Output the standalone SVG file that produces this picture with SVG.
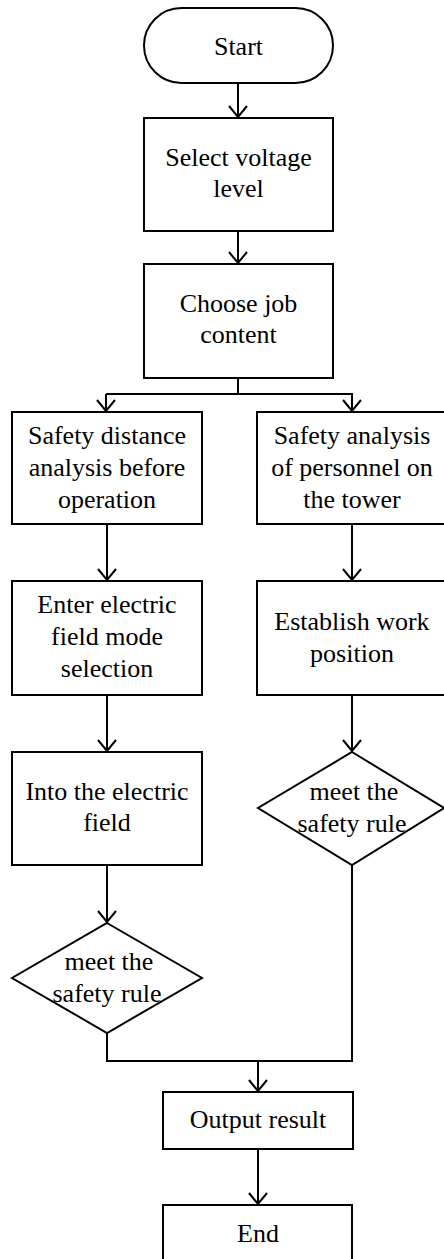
<svg xmlns="http://www.w3.org/2000/svg" width="444" height="1259" viewBox="0 0 444 1259">
<style>
.s{fill:#fff;stroke:#000;stroke-width:2}
.c{fill:none;stroke:#000;stroke-width:2}
text{font-family:"Liberation Serif","Times New Roman",serif;font-size:26px;fill:#000;text-anchor:middle}
</style>
<defs>
<marker id="a" markerUnits="userSpaceOnUse" markerWidth="30" markerHeight="30" refX="0" refY="0" orient="auto" overflow="visible">
<path d="M-11,-9 L0,0 L-11,9" fill="none" stroke="#000" stroke-width="2"/>
</marker>
</defs>
<rect width="444" height="1259" fill="#fff"/>
<g id="connectors">
<path class="c" d="M238,83 V117" marker-end="url(#a)"/>
<path class="c" d="M238,231 V263" marker-end="url(#a)"/>
<path class="c" d="M238,378 V394"/>
<path class="c" d="M106,394 H353"/>
<path class="c" d="M106,394 V411" marker-end="url(#a)"/>
<path class="c" d="M352,394 V411" marker-end="url(#a)"/>
<path class="c" d="M107,524 V580" marker-end="url(#a)"/>
<path class="c" d="M107,695 V751" marker-end="url(#a)"/>
<path class="c" d="M107,865 V922" marker-end="url(#a)"/>
<path class="c" d="M352,524 V580" marker-end="url(#a)"/>
<path class="c" d="M352,695 V751" marker-end="url(#a)"/>
<path class="c" d="M107,1033 V1061 H352 V865"/>
<path class="c" d="M258,1061 V1091" marker-end="url(#a)"/>
<path class="c" d="M258,1149 V1204" marker-end="url(#a)"/>
</g>
<g id="start">
<rect class="s" x="144" y="8" width="189" height="75" rx="37.5"/>
<text x="238.5" y="55">Start</text>
</g>
<g id="select">
<rect class="s" x="144" y="118" width="189" height="113"/>
<text x="238.5" y="166">Select voltage</text>
<text x="238.5" y="197">level</text>
</g>
<g id="choose">
<rect class="s" x="144" y="264" width="189" height="114"/>
<text x="238.5" y="312">Choose job</text>
<text x="238.5" y="343">content</text>
</g>
<g id="distance">
<rect class="s" x="12" y="412" width="190" height="112"/>
<text x="107" y="444">Safety distance</text>
<text x="107" y="476">analysis before</text>
<text x="107" y="508">operation</text>
</g>
<g id="personnel">
<rect class="s" x="257" y="412" width="192" height="112"/>
<text x="352" y="444">Safety analysis</text>
<text x="352" y="476">of personnel on</text>
<text x="352" y="508">the tower</text>
</g>
<g id="enter">
<rect class="s" x="12" y="581" width="190" height="114"/>
<text x="107" y="613">Enter electric</text>
<text x="107" y="645">field mode</text>
<text x="107" y="677">selection</text>
</g>
<g id="establish">
<rect class="s" x="257" y="581" width="192" height="114"/>
<text x="352" y="630">Establish work</text>
<text x="352" y="662">position</text>
</g>
<g id="into">
<rect class="s" x="12" y="752" width="190" height="113"/>
<text x="107" y="800">Into the electric</text>
<text x="107" y="831">field</text>
</g>
<g id="rule-right">
<polygon class="s" points="352,752 444,808 352,865 258,808"/>
<text x="354" y="800">meet the</text>
<text x="352" y="832">safety rule</text>
</g>
<g id="rule-left">
<polygon class="s" points="107,923 202,978 107,1033 12,978"/>
<text x="109" y="970">meet the</text>
<text x="107" y="1002">safety rule</text>
</g>
<g id="output">
<rect class="s" x="163" y="1092" width="190" height="57"/>
<text x="258" y="1128">Output result</text>
</g>
<g id="end">
<rect class="s" x="163" y="1205" width="189" height="70"/>
<text x="258" y="1242">End</text>
</g>
</svg>
